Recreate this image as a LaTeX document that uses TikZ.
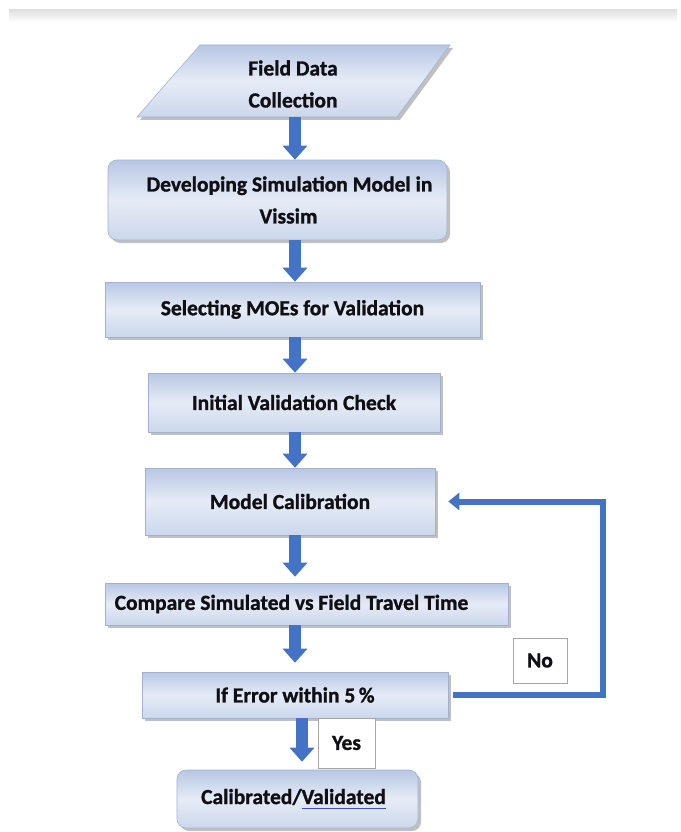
\documentclass[tikz,border=0pt]{standalone}
\usepackage{fontspec}
\setmainfont{Carlito}[BoldFeatures={FakeBold=1.2}]
\usetikzlibrary{arrows.meta,shadows,calc}
\definecolor{arrowblue}{RGB}{68,114,196}
\definecolor{boxtop}{RGB}{184,199,228}
\definecolor{boxmid}{RGB}{230,236,246}
\definecolor{boxbot}{RGB}{204,215,236}
\definecolor{boxline}{RGB}{160,178,210}
\definecolor{ulblue}{RGB}{60,80,200}
\definecolor{txt}{RGB}{15,15,20}
\newlength\myulwidth
\newcommand\myblueul[1]{\settowidth{\myulwidth}{#1}\rlap{\textcolor{ulblue}{\rule[-5pt]{\myulwidth}{1.3pt}}}#1}
\tikzset{
  x=1pt, y=-1pt,
  boxshade/.style={top color=boxtop, bottom color=boxbot, middle color=boxmid},
  boxshadow/.style={drop shadow={shadow xshift=3pt, shadow yshift=-3pt, fill=black!45, opacity=0.55}},
  procbox/.style={rectangle, boxshade, boxshadow, draw=boxline, line width=0.6pt,
    text=txt, align=center, inner sep=0pt,
    font=\fontsize{21.5}{32}\selectfont\bfseries},
  roundbox/.style={procbox, rounded corners=9pt},
  labelbox/.style={rectangle, draw=black!35, fill=white, line width=0.6pt, text=txt,
    inner sep=0pt, font=\fontsize{21.5}{24}\selectfont\bfseries},
  blockarrow/.style={draw=arrowblue, line width=12pt, -{Triangle[width=24pt,length=14pt]}},
  loopline/.style={draw=arrowblue, line width=6pt, line join=miter, -{Triangle[width=17pt,length=11pt]}},
}
\begin{document}
\begin{tikzpicture}
\useasboundingbox (0,0) rectangle (680,832);
% top strip
\shade[top color=black!12, bottom color=white] (9,10) rectangle (677,22);
% parallelogram
\shade[boxshade, boxshadow, draw=boxline, line width=0.6pt]
  (137,117) -- (200,45) -- (450,45) -- (397,117) -- cycle;
\node[text=txt, align=center, font=\fontsize{21.5}{32}\selectfont\bfseries] (fdc) at (293,84) {Field Data\\Collection};
\coordinate (fdcb) at (295,117);
\coordinate (ax) at (295,0);
\coordinate (ay) at (302,0);
% boxes
\node[roundbox, minimum width=339pt, minimum height=80pt] (dev) at (277.5,200) {\hspace*{24pt}Developing Simulation Model in\\\hspace*{22pt}Vissim};
\node[procbox, minimum width=375pt, minimum height=55pt] (sel) at (292.5,309.5) {Selecting MOEs for Validation};
\node[procbox, minimum width=292pt, minimum height=59pt] (ini) at (294,402.5) {Initial Validation Check};
\node[procbox, minimum width=290pt, minimum height=67pt] (cal) at (290,501.5) {Model Calibration};
\node[procbox, minimum width=403pt, minimum height=42pt] (cmp) at (306.5,604) {Compare Simulated vs Field Travel Time\hspace*{30pt}};
\node[procbox, minimum width=306pt, minimum height=46pt] (err) at (295,695) {If Error within 5\,\%};
\node[roundbox, minimum width=241pt, minimum height=58pt] (fin) at (297.5,799) {Calibrated/\myblueul{Validated}\hspace*{8pt}};
\node[labelbox, minimum width=57pt, minimum height=50pt] (yes) at (346.5,743) {Yes};
\node[labelbox, minimum width=54pt, minimum height=45pt] (no) at (540,660.5) {No};
% arrows
\draw[blockarrow] (fdcb) -- (ax |- dev.north);
\draw[blockarrow] (ax |- dev.south) -- (ax |- sel.north);
\draw[blockarrow] (ax |- sel.south) -- (ax |- ini.north);
\draw[blockarrow] (ax |- ini.south) -- (ax |- cal.north);
\draw[blockarrow, shorten >=6pt] (ax |- cal.south) -- (ax |- cmp.north);
\draw[blockarrow, shorten >=9pt] (ax |- cmp.south) -- (ax |- err.north);
\draw[blockarrow, shorten >=8pt] (ay |- err.south) -- (ay |- fin.north);
% feedback loop
\coordinate (loopx) at (603,0);
\draw[loopline] ([xshift=5pt]err.east) -- (loopx |- err.east) -- (loopx |- cal.east) -- ([xshift=13pt]cal.east);
\end{tikzpicture}
\end{document}
